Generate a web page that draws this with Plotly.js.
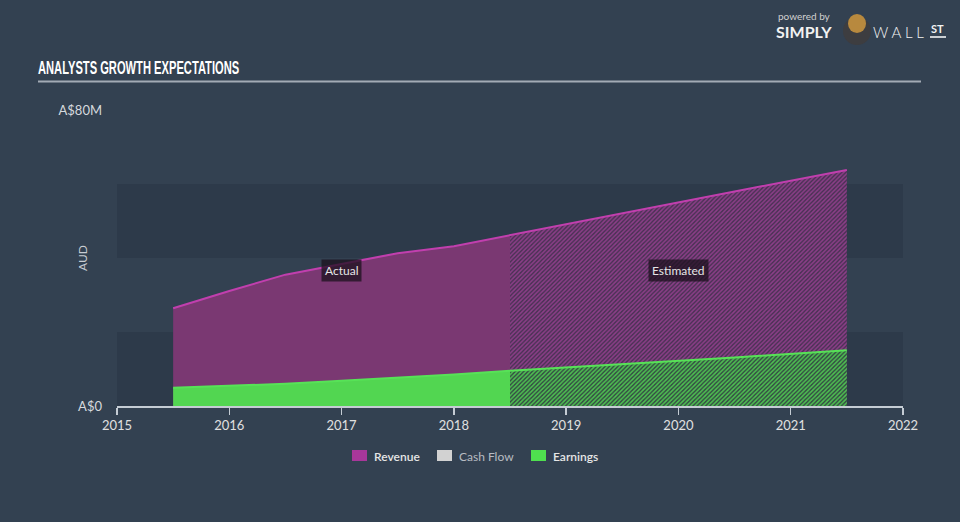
<!DOCTYPE html>
<html>
<head>
<meta charset="utf-8">
<script src="https://cdn.plot.ly/plotly-3.0.1.min.js"></script>
<style>
  html, body { margin: 0; padding: 0; background: #334151; }
  #chart { width: 960px; height: 522px; }
  #chart .gtitle { transform-box: fill-box; transform-origin: 0% 50%; transform: scaleX(0.62); }
</style>
</head>
<body>
<div id="chart"></div>
<script>
// ---- data (values in A$ millions) ----
const actualYears    = [2015.5, 2016.0, 2016.5, 2017.0, 2017.5, 2018.0, 2018.5];
const revenueActual  = [26.4, 31.1, 35.5, 38.4, 41.3, 43.2, 46.2];
const earningsActual = [4.9, 5.4, 6.0, 6.8, 7.6, 8.5, 9.5];

const estYears       = [2018.5, 2019.5, 2020.5, 2021.5];
const revenueEst     = [46.2, 52.2, 58.0, 63.8];
const earningsEst    = [9.5, 11.2, 13.1, 15.1];

const xTicks   = [2015, 2016, 2017, 2018, 2019, 2020, 2021, 2022];
const yTicks   = [0, 80];
const yLabels  = ['A$0', 'A$80M'];
const legendNames = ['Revenue', 'Cash Flow', 'Earnings'];

// ---- layout helpers ----
const W = 960, H = 522, L = 117, R = 903, T = 110, B = 406;
const px = x => (x - L) / (R - L);
const py = y => (B - y) / (B - T);

const FONT = 'Lato, "Open Sans", sans-serif';
const revLine = '#c13fae', revFill = '#7a3872';
const earnLine = '#57e257', earnFill = '#52d651';

const allYears = actualYears.concat(estYears.slice(1));
const revAll = revenueActual.concat(revenueEst.slice(1));
const earnAll = earningsActual.concat(earningsEst.slice(1));

const traces = [
  { x: actualYears, y: revenueActual, type: 'scatter', mode: 'lines', fill: 'tozeroy',
    fillcolor: revFill, line: { width: 0, color: revFill }, hoverinfo: 'skip', showlegend: false },
  { x: estYears, y: revenueEst, type: 'scatter', mode: 'lines', fill: 'tozeroy',
    fillcolor: '#4b3355', line: { width: 0, color: revFill },
    fillpattern: { shape: '/', size: 3, solidity: 0.5, fgcolor: '#8e3f8a', bgcolor: '#4a3154' },
    hoverinfo: 'skip', showlegend: false },
  { x: actualYears, y: earningsActual, type: 'scatter', mode: 'lines', fill: 'tozeroy',
    fillcolor: earnFill, line: { width: 0, color: earnFill }, hoverinfo: 'skip', showlegend: false },
  { x: estYears, y: earningsEst, type: 'scatter', mode: 'lines', fill: 'tozeroy',
    fillcolor: '#345043', line: { width: 0, color: earnFill },
    fillpattern: { shape: '/', size: 3, solidity: 0.5, fgcolor: '#4fc452', bgcolor: '#344c43' },
    hoverinfo: 'skip', showlegend: false },
  { x: allYears, y: revAll, type: 'scatter', mode: 'lines',
    line: { width: 2, color: revLine }, hoverinfo: 'skip', showlegend: false },
  { x: allYears, y: earnAll, type: 'scatter', mode: 'lines',
    line: { width: 2, color: earnLine }, hoverinfo: 'skip', showlegend: false }
];

const shapes = [
  // horizontal bands
  { type: 'rect', xref: 'x', yref: 'y', x0: 2015, x1: 2022, y0: 0, y1: 20, fillcolor: 'rgba(20,30,42,0.18)', line: { width: 0 }, layer: 'below' },
  { type: 'rect', xref: 'x', yref: 'y', x0: 2015, x1: 2022, y0: 40, y1: 60, fillcolor: 'rgba(20,30,42,0.18)', line: { width: 0 }, layer: 'below' },
  // title underline
  { type: 'line', xref: 'paper', yref: 'paper', x0: px(38), x1: px(921), y0: py(81.5), y1: py(81.5), line: { color: '#a3abb5', width: 2 } },
  // legend swatches
  { type: 'rect', xref: 'paper', yref: 'paper', x0: px(352), x1: px(367), y0: py(461), y1: py(450), fillcolor: '#a8379a', line: { width: 0 } },
  { type: 'rect', xref: 'paper', yref: 'paper', x0: px(437), x1: px(452), y0: py(461), y1: py(450), fillcolor: '#d2d2d2', line: { width: 0 } },
  { type: 'rect', xref: 'paper', yref: 'paper', x0: px(531), x1: px(546), y0: py(461), y1: py(450), fillcolor: '#4fe04f', line: { width: 0 } },
  // logo icon
  { type: 'circle', xref: 'paper', yref: 'paper', x0: px(843), x1: px(871), y0: py(45), y1: py(17), fillcolor: '#3d3d40', line: { width: 0 } },
  { type: 'circle', xref: 'paper', yref: 'paper', x0: px(848), x1: px(866), y0: py(33), y1: py(14), fillcolor: '#b8893e', line: { width: 0 } },
  // ST underline
  { type: 'line', xref: 'paper', yref: 'paper', x0: px(930), x1: px(946), y0: py(37), y1: py(37), line: { color: '#ffffff', width: 1.5 } }
];

const ann = (x, y, text, opts) => Object.assign({
  xref: 'paper', yref: 'paper', x: px(x), y: py(y), text: text, showarrow: false,
  xanchor: 'left', yanchor: 'middle', borderpad: 0, font: { family: FONT, size: 12, color: '#e0e0e0' }
}, opts || {});

const annotations = [
  ann(373, 456, legendNames[0], { font: { family: FONT, size: 12, color: '#e6e6e6', weight: 600 } }),
  ann(458, 456, legendNames[1], { font: { family: FONT, size: 12, color: '#b8bcc2' } }),
  ann(552, 456, legendNames[2], { font: { family: FONT, size: 12, color: '#e6e6e6', weight: 600 } }),
  ann(82, 258, 'AUD', { xanchor: 'center', textangle: -90, font: { family: FONT, size: 12, color: '#c8ccd2' } }),
  { xref: 'x', yref: 'y', x: 2017.0, y: 36.5, text: 'Actual', showarrow: false,
    bgcolor: 'rgba(28,18,30,0.75)', borderpad: 3, font: { family: FONT, size: 12, color: '#e6e6e6' } },
  { xref: 'x', yref: 'y', x: 2020.0, y: 36.5, text: 'Estimated', showarrow: false,
    bgcolor: 'rgba(28,18,30,0.75)', borderpad: 3, font: { family: FONT, size: 12, color: '#e6e6e6' } },
  // logo text
  ann(777, 16, 'powered by', { font: { family: FONT, size: 10, color: '#d0d0d0' } }),
  ann(775, 32, '<b>SIMPLY</b>', { font: { family: FONT, size: 16, color: '#f2f2f2' } }),
  ann(872, 32, 'W A L L', { font: { family: FONT, size: 15, color: '#f2f2f2', weight: 300 } }),
  ann(930, 28, '<b>ST</b>', { font: { family: FONT, size: 11, color: '#f2f2f2' } })
];

const layout = {
  width: W, height: H,
  paper_bgcolor: '#334151', plot_bgcolor: 'rgba(0,0,0,0)',
  margin: { l: L, r: W - R, t: T, b: H - B, pad: 0 },
  showlegend: false,
  title: {
    text: 'ANALYSTS GROWTH EXPECTATIONS',
    xref: 'container', yref: 'container', x: 38 / W, y: 1 - 68 / H,
    xanchor: 'left', yanchor: 'middle',
    font: { family: '"Liberation Sans", Arial, sans-serif', size: 18, color: '#ffffff', weight: 700 }
  },
  xaxis: {
    range: [2015, 2022], tickvals: xTicks, ticktext: xTicks.map(String),
    showgrid: false, zeroline: false, showline: true, linecolor: '#c5ccd4', linewidth: 1.5,
    ticks: 'outside', ticklen: 7, tickcolor: '#c5ccd4', tickwidth: 1.5,
    tickfont: { family: FONT, size: 13, color: '#e0e0e0' }, fixedrange: true
  },
  yaxis: {
    range: [0, 80], tickvals: yTicks, ticktext: yLabels,
    showgrid: false, zeroline: false, showline: false, ticks: '',
    ticklabelstandoff: 14,
    tickfont: { family: FONT, size: 13, color: '#d6d9de' }, fixedrange: true
  },
  shapes: shapes,
  annotations: annotations
};

Plotly.newPlot('chart', traces, layout, { staticPlot: true, displayModeBar: false });
</script>
</body>
</html>
